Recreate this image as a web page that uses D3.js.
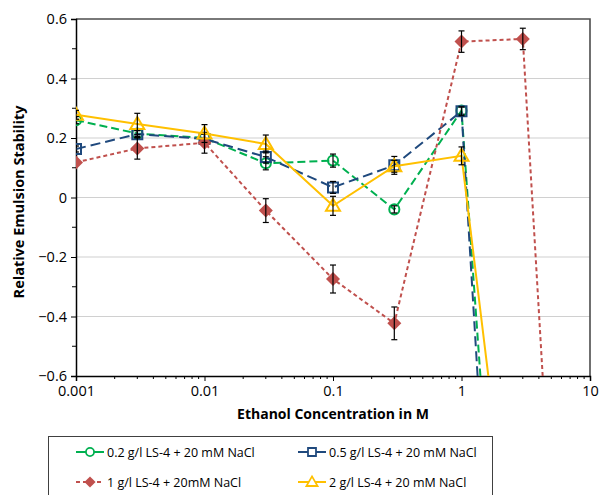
<!DOCTYPE html>
<html>
<head>
<meta charset="utf-8">
<script src="https://cdn.jsdelivr.net/npm/d3@7"></script>
<style>
  body { margin: 0; background: #fff; }
  svg { font-family: "Open Sans", "Liberation Sans", sans-serif; }
</style>
</head>
<body>
<div id="chart"></div>
<script>
// ethanol concentrations (M)
var concentrations = [0.001, 0.003, 0.01, 0.03, 0.1, 0.3, 1, 3, 10];

// relative emulsion stability per series (null = no point)
var series02 = [0.26, 0.215, 0.2, 0.115, 0.124, -0.04, 0.292, -2.6, null];
var series05 = [0.163, 0.213, 0.197, 0.136, 0.034, 0.108, 0.29, -3.1, null];
var series1  = [0.118, 0.165, 0.184, -0.044, -0.274, -0.423, 0.524, 0.533, -3.3];
var series2  = [0.278, 0.247, 0.215, 0.18, -0.028, 0.105, 0.14, -1.55, null];

// error bar half widths
var err02 = [0.012, 0.01, 0.015, 0.022, 0.022, 0.012, 0.012, 0, 0];
var err05 = [0.01, 0.012, 0.015, 0.02, 0.02, 0.03, 0.015, 0, 0];
var err1  = [0.0, 0.036, 0.035, 0.04, 0.047, 0.055, 0.036, 0.036, 0];
var err2  = [0.015, 0.036, 0.03, 0.03, 0.032, 0.02, 0.03, 0, 0];

var seriesNames = ["0.2 g/l LS-4 + 20 mM NaCl", "0.5 g/l LS-4 + 20 mM NaCl",
                   "1 g/l LS-4 + 20mM NaCl", "2 g/l LS-4 + 20 mM NaCl"];

var yTicks = [-0.6, -0.4, -0.2, 0, 0.2, 0.4, 0.6];
var xTicks = [0.001, 0.01, 0.1, 1, 10];

var width = 600, height = 495;
var plot = {left: 76, right: 590, top: 19, bottom: 376};

var svg = d3.select("#chart").append("svg")
  .attr("width", width).attr("height", height);

var x = d3.scaleLog().domain([0.001, 10]).range([plot.left, plot.right]);
var y = d3.scaleLinear().domain([-0.6, 0.6]).range([plot.bottom, plot.top]);

// gridlines
svg.append("g").selectAll("line")
  .data(yTicks.filter(function(d){ return d > -0.6 && d < 0.6; }))
  .enter().append("line")
  .attr("x1", plot.left).attr("x2", plot.right)
  .attr("y1", function(d){ return y(d); }).attr("y2", function(d){ return y(d); })
  .style("stroke", "#d0d0d0").style("stroke-width", 1.2);

// plot frame (top/right)
svg.append("path")
  .attr("d", "M" + plot.left + "," + plot.top + "H" + plot.right + "V" + plot.bottom)
  .style("fill", "none").style("stroke", "#4d4d4d").style("stroke-width", 1.6);

// axes
var yMinor = d3.range(-5, 6, 2).map(function(d){ return d / 10; });
var xMinor = [];
[0.001, 0.01, 0.1, 1].forEach(function(dec){
  for (var k = 2; k <= 9; k++) xMinor.push(dec * k);
});

var yAxis = svg.append("g").attr("transform", "translate(" + plot.left + ",0)")
  .call(d3.axisLeft(y).tickValues(yTicks).tickSize(5).tickPadding(4)
    .tickFormat(function(d){ return d === 0 ? "0" : d3.format(".1f")(d); }));
yAxis.append("g").selectAll("line").data(yMinor).enter().append("line")
  .attr("x1", -4).attr("x2", 0)
  .attr("y1", function(d){ return y(d); }).attr("y2", function(d){ return y(d); })
  .style("stroke", "#000");

var xAxis = svg.append("g").attr("transform", "translate(0," + plot.bottom + ")")
  .call(d3.axisBottom(x).tickValues(xTicks).tickSize(5).tickPadding(5)
    .tickFormat(function(d){ return String(d); }));
xAxis.append("g").selectAll("line").data(xMinor).enter().append("line")
  .attr("x1", function(d){ return x(d); }).attr("x2", function(d){ return x(d); })
  .attr("y1", 0).attr("y2", 3)
  .style("stroke", "#000");

[yAxis, xAxis].forEach(function(a){
  a.selectAll(".domain").style("stroke", "#000").style("stroke-width", 1.5);
  a.selectAll(".tick line").style("stroke", "#000");
  a.selectAll("text").style("font-size", "14.5px").style("fill", "#000")
    .style("font-family", "'Open Sans', sans-serif");
});

// axis titles
svg.append("text")
  .attr("x", 333).attr("y", 419)
  .attr("text-anchor", "middle")
  .style("font-weight", "bold").style("font-size", "14px")
  .text("Ethanol Concentration in M");

svg.append("text")
  .attr("transform", "translate(24," + 202 + ") rotate(-90)")
  .attr("text-anchor", "middle")
  .style("font-weight", "bold").style("font-size", "14.5px")
  .text("Relative Emulsion Stability");

// series
var seriesList = [
  {name: seriesNames[0], values: series02, errs: err02, color: "#00b050", dash: "8,4", marker: "circle"},
  {name: seriesNames[1], values: series05, errs: err05, color: "#1f497d", dash: "10,5", marker: "square"},
  {name: seriesNames[2], values: series1,  errs: err1,  color: "#c0504d", dash: "4,3", marker: "diamond"},
  {name: seriesNames[3], values: series2,  errs: err2,  color: "#ffc000", dash: null, marker: "triangle"}
];

svg.append("defs").append("clipPath").attr("id", "plotClip")
  .append("rect")
  .attr("x", plot.left).attr("y", plot.top - 10)
  .attr("width", plot.right - plot.left).attr("height", plot.bottom - plot.top + 10);

var plotG = svg.append("g").attr("clip-path", "url(#plotClip)");

var line = d3.line()
  .defined(function(d){ return d.v !== null; })
  .x(function(d){ return x(d.c); })
  .y(function(d){ return y(d.v); });

function pointsOf(s){
  return concentrations.map(function(c, i){ return {c: c, v: s.values[i], e: s.errs[i]}; })
    .filter(function(d){ return d.v !== null; });
}

function markerPath(type){
  if (type === "circle") return d3.symbol().type(d3.symbolCircle).size(80)();
  if (type === "square") return "M-5,-5H5V5H-5Z";
  if (type === "diamond") return "M0,-7L7,0L0,7L-7,0Z";
  return "M0,-7L7,5H-7Z";
}

seriesList.forEach(function(s){
  var pts = pointsOf(s);
  var g = plotG.append("g");

  g.append("path").datum(pts)
    .attr("d", line)
    .style("fill", "none")
    .style("stroke", s.color)
    .style("stroke-width", 2)
    .style("stroke-dasharray", s.dash);

  var inRange = pts.filter(function(d){ return d.v >= -0.6 && d.v <= 0.6; });

  g.selectAll(".marker").data(inRange).enter().append("path")
    .attr("class", "marker")
    .attr("transform", function(d){ return "translate(" + x(d.c) + "," + y(d.v) + ")"; })
    .attr("d", markerPath(s.marker))
    .style("fill", s.marker === "diamond" ? s.color : "none")
    .style("stroke", s.color)
    .style("stroke-width", s.marker === "diamond" ? 0 : 2);

  var eb = g.selectAll(".err").data(inRange.filter(function(d){ return d.e > 0; }))
    .enter().append("g").attr("class", "err")
    .style("stroke", "#000").style("stroke-width", 1.2);
  eb.append("line")
    .attr("x1", function(d){ return x(d.c); }).attr("x2", function(d){ return x(d.c); })
    .attr("y1", function(d){ return y(d.v + d.e); }).attr("y2", function(d){ return y(d.v - d.e); });
  eb.append("line")
    .attr("x1", function(d){ return x(d.c) - 3; }).attr("x2", function(d){ return x(d.c) + 3; })
    .attr("y1", function(d){ return y(d.v + d.e); }).attr("y2", function(d){ return y(d.v + d.e); });
  eb.append("line")
    .attr("x1", function(d){ return x(d.c) - 3; }).attr("x2", function(d){ return x(d.c) + 3; })
    .attr("y1", function(d){ return y(d.v - d.e); }).attr("y2", function(d){ return y(d.v - d.e); });
});

// legend
var legend = svg.append("g");
legend.append("rect")
  .attr("x", 48.5).attr("y", 436.5).attr("width", 444).attr("height", 70)
  .style("fill", "#fff").style("stroke", "#404040").style("stroke-width", 1);

var legendPos = [[76, 452], [298, 452], [76, 482], [298, 482]];
seriesList.forEach(function(s, i){
  var lx = legendPos[i][0], ly = legendPos[i][1];
  var item = legend.append("g").attr("transform", "translate(" + lx + "," + ly + ")");
  item.append("line")
    .attr("x1", 0).attr("x2", 28).attr("y1", 0).attr("y2", 0)
    .style("stroke", s.color).style("stroke-width", 2)
    .style("stroke-dasharray", s.marker === "diamond" ? "4,3" : null);
  item.append("path")
    .attr("transform", "translate(14,0) scale(0.8)")
    .attr("d", markerPath(s.marker))
    .style("fill", s.marker === "diamond" ? s.color : "#fff")
    .style("stroke", s.color)
    .style("stroke-width", s.marker === "diamond" ? 0 : 2.2);
  item.append("text")
    .attr("x", 31).attr("y", 4.5)
    .style("font-size", "12.5px")
    .text(s.name);
});
</script>
</body>
</html>
